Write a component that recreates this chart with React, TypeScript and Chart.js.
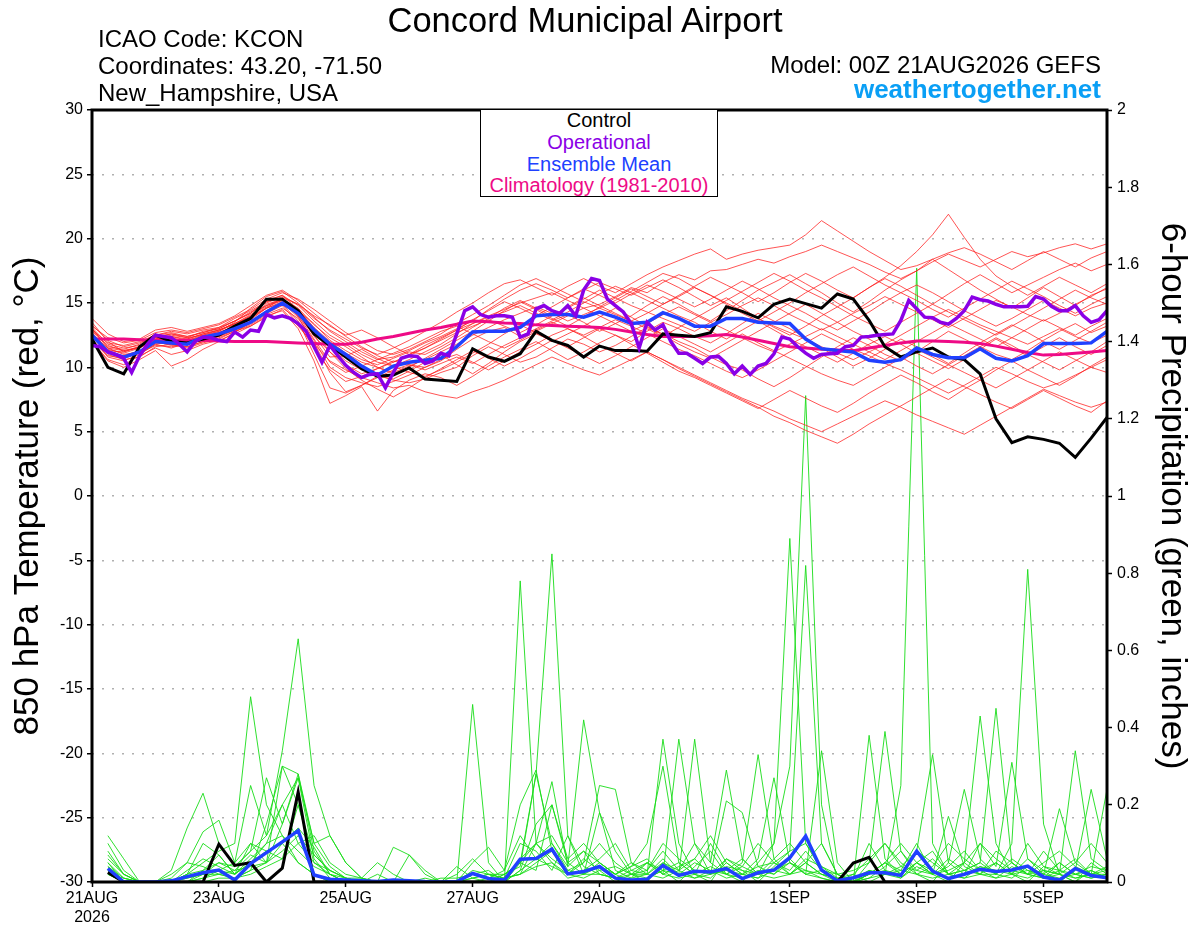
import React, { useEffect, useRef } from "react";
import { Chart, registerables } from "chart.js";

Chart.register(...registerables);

const FONT = "'Liberation Sans', Arial, Helvetica, sans-serif";

// ---- time axis (forecast lead hours) ----
const STEP_HOURS = 6;
const OPER_STEP_HOURS = 3;
const X_TICK_HOURS = [0, 48, 96, 144, 192, 264, 312, 360];
const X_TICK_LABELS: (string | string[])[] = [["21AUG", "2026"], "23AUG", "25AUG", "27AUG", "29AUG", "1SEP", "3SEP", "5SEP"];

// ---- 850 hPa temperature (°C), 6-hourly from 00Z 21AUG ----
const TEMP_CONTROL = [12.2, 10.0, 9.5, 11.6, 12.5, 12.0, 11.9, 12.2, 12.5, 13.2, 13.8, 15.3, 15.3, 14.4, 12.6, 11.7, 10.8, 9.9, 9.3, 9.4, 9.95, 9.1, 9.0, 8.9, 11.45, 10.8, 10.47, 11.06, 12.8, 12.1, 11.7, 10.8, 11.65, 11.3, 11.3, 11.25, 12.6, 12.5, 12.4, 12.7, 14.7, 14.35, 13.85, 14.9, 15.3, 14.95, 14.6, 15.7, 15.3, 13.65, 11.6, 10.8, 11.2, 11.5, 10.8, 10.6, 9.5, 6.0, 4.15, 4.6, 4.4, 4.1, 3.0, 4.5, 6.1];
const TEMP_MEAN = [12.5, 11.2, 10.8, 11.2, 12.0, 11.9, 11.8, 12.35, 12.6, 13.0, 13.5, 14.3, 15.0, 14.2, 12.9, 11.8, 11.0, 10.1, 9.4, 10.1, 10.4, 10.55, 10.7, 11.6, 12.75, 12.8, 12.8, 13.1, 14.0, 14.1, 14.1, 13.9, 14.3, 13.9, 13.4, 13.5, 14.25, 13.8, 13.2, 13.2, 13.8, 13.8, 13.5, 13.45, 13.4, 12.2, 11.45, 11.3, 11.2, 10.55, 10.4, 10.6, 11.5, 11.0, 10.75, 10.75, 11.45, 10.7, 10.5, 10.9, 11.85, 11.85, 11.85, 11.9, 12.8];
const TEMP_CLIMO = [12.2, 12.2, 12.2, 12.15, 12.1, 12.1, 12.1, 12.1, 12.05, 12.0, 12.0, 12.0, 11.95, 11.9, 11.85, 11.8, 11.8, 11.95, 12.2, 12.4, 12.65, 12.9, 13.1, 13.35, 13.6, 13.55, 13.45, 13.4, 13.3, 13.25, 13.2, 13.15, 13.1, 12.95, 12.75, 12.55, 12.4, 12.4, 12.4, 12.45, 12.55, 12.35, 12.1, 11.85, 11.6, 11.5, 11.4, 11.35, 11.3, 11.5, 11.7, 11.9, 12.05, 12.05, 12.0, 11.95, 11.85, 11.65, 11.4, 11.15, 10.95, 11.0, 11.1, 11.2, 11.3];
// operational run, 3-hourly
const TEMP_OPER = [11.7, 11.6, 11.2, 11.0, 10.7, 9.6, 10.9, 11.8, 12.5, 12.4, 12.3, 11.8, 11.2, 12.0, 12.35, 12.3, 12.1, 12.0, 12.75, 12.35, 12.9, 12.8, 14.1, 13.85, 14.0, 13.8, 13.4, 12.8, 11.6, 10.4, 11.7, 10.9, 10.15, 9.6, 9.2, 9.45, 9.5, 8.4, 9.6, 10.7, 10.9, 10.85, 10.3, 10.5, 11.1, 10.9, 12.6, 14.4, 14.7, 14.1, 13.9, 14.0, 14.0, 13.9, 12.35, 12.6, 14.55, 14.8, 14.4, 14.2, 14.8, 14.0, 16.0, 16.9, 16.75, 15.3, 14.8, 14.3, 13.4, 11.5, 13.5, 12.9, 13.3, 12.0, 11.1, 11.1, 10.7, 10.3, 10.8, 10.85, 10.3, 9.5, 10.1, 9.45, 10.1, 10.3, 11.05, 12.35, 12.2, 11.6, 11.1, 10.7, 11.0, 11.05, 11.1, 11.6, 11.7, 12.35, 12.4, 12.5, 12.55, 12.6, 13.65, 15.2, 14.55, 13.9, 13.85, 13.5, 13.35, 13.8, 14.4, 15.45, 15.25, 15.15, 14.9, 14.7, 14.7, 14.7, 14.75, 15.5, 15.3, 14.75, 14.4, 14.4, 14.8, 14.0, 13.5, 13.7, 14.4];

// ensemble members (temperature)
const TEMP_M01 = [13.5, 12.0, 11.2, 11.6, 12.4, 12.6, 12.3, 12.8, 13.0, 13.6, 14.2, 15.2, 15.6, 14.8, 13.6, 12.5, 11.8, 11.0, 10.4, 10.1, 10.6, 11.2, 11.8, 12.6, 13.4, 14.0, 14.5, 15.0, 15.4, 15.8, 15.2, 14.6, 14.9, 15.5, 16.2, 15.8, 16.6, 17.2, 16.8, 17.5, 17.6, 18.0, 18.4, 18.1, 18.6, 19.0, 19.5, 19.0, 18.5, 18.0, 17.4, 16.9, 17.5, 18.2, 18.8, 18.3, 17.8, 18.4, 19.0, 18.6, 18.9, 19.3, 19.6, 19.2, 19.6];
const TEMP_M02 = [12.2, 10.8, 10.5, 11.0, 11.8, 11.5, 11.9, 12.2, 12.4, 12.9, 13.5, 14.3, 14.9, 13.6, 11.0, 8.4, 8.0, 8.6, 9.2, 9.8, 10.2, 10.0, 10.5, 11.4, 12.2, 12.8, 13.1, 12.4, 13.0, 13.6, 14.1, 13.5, 12.8, 13.4, 14.0, 14.8, 15.5, 14.9, 14.2, 13.6, 14.4, 15.2, 16.0, 16.6, 17.2, 16.5, 15.8, 15.0, 14.3, 15.1, 16.0, 16.8, 17.5, 18.4, 17.6, 16.8, 16.0, 15.3, 14.6, 15.4, 16.2, 15.5, 14.8, 15.6, 16.1];
const TEMP_M03 = [12.6, 11.5, 11.0, 11.2, 11.9, 12.2, 12.1, 12.5, 12.9, 13.4, 14.0, 14.8, 15.3, 14.5, 13.0, 11.6, 10.5, 9.8, 9.4, 9.0, 8.8, 9.1, 9.6, 10.0, 10.9, 11.6, 11.0, 10.4, 10.8, 11.5, 12.2, 11.8, 11.2, 11.7, 12.4, 13.1, 12.6, 12.0, 11.5, 10.8, 10.2, 9.8, 9.1, 8.5, 9.2, 10.0, 10.8, 11.6, 12.3, 11.7, 11.0, 10.5, 11.2, 12.0, 12.8, 12.2, 11.6, 11.0, 10.6, 11.3, 12.1, 12.8, 13.4, 12.7, 13.2];
const TEMP_M04 = [13.0, 11.6, 11.4, 11.8, 12.6, 12.3, 12.0, 12.4, 12.8, 13.5, 14.6, 15.5, 15.9, 15.0, 13.9, 12.8, 12.0, 11.2, 10.6, 10.8, 11.3, 11.9, 12.4, 13.0, 13.6, 14.5, 15.3, 16.0, 16.5, 16.0, 15.4, 16.0, 16.6, 16.1, 15.6, 16.2, 16.8, 16.2, 15.5, 14.8, 15.4, 14.6, 13.8, 13.1, 12.5, 13.2, 14.0, 14.7, 15.4, 16.2, 16.9, 16.3, 15.6, 14.9, 15.7, 16.5, 17.2, 16.5, 15.8, 16.4, 17.0, 17.6, 18.1, 17.5, 18.0];
const TEMP_M05 = [12.0, 10.6, 10.2, 10.9, 11.5, 11.0, 11.3, 11.8, 12.1, 12.6, 13.2, 14.0, 14.4, 13.0, 10.5, 7.2, 7.8, 8.5, 6.6, 8.2, 9.0, 9.5, 9.2, 8.6, 9.3, 10.1, 10.8, 11.4, 12.0, 11.3, 10.6, 11.2, 11.9, 12.5, 11.8, 11.1, 10.4, 9.7, 9.2, 8.6, 8.0, 7.4, 6.8, 7.5, 8.2, 7.6, 7.0, 6.5, 7.2, 8.0, 8.7, 9.4, 8.8, 8.1, 7.5, 8.3, 9.0, 9.8, 10.5, 9.8, 9.2, 8.6, 9.3, 10.1, 10.8];
const TEMP_M06 = [12.9, 11.9, 11.7, 12.0, 12.5, 12.8, 12.6, 12.9, 13.1, 13.8, 14.4, 15.1, 15.4, 14.2, 12.4, 11.2, 10.2, 9.5, 9.9, 10.4, 11.0, 11.7, 12.3, 12.9, 13.4, 13.9, 14.3, 14.8, 14.2, 13.7, 14.3, 15.0, 15.7, 16.3, 15.8, 15.2, 14.6, 14.0, 13.5, 12.8, 12.2, 12.9, 13.6, 12.9, 12.2, 11.6, 11.0, 10.4, 11.1, 11.8, 12.4, 11.8, 11.1, 10.5, 9.9, 10.6, 11.4, 12.2, 11.5, 10.9, 11.6, 12.3, 11.6, 11.0, 11.7];
const TEMP_M07 = [12.4, 11.0, 10.6, 10.8, 11.6, 11.8, 11.5, 11.9, 12.2, 12.8, 13.3, 14.1, 14.6, 13.8, 12.1, 10.0, 9.2, 8.8, 8.5, 8.9, 9.4, 10.0, 10.6, 11.0, 10.4, 9.8, 10.5, 11.2, 11.8, 12.5, 13.0, 12.4, 11.7, 11.1, 10.5, 11.2, 10.6, 9.9, 9.3, 8.7, 8.1, 7.5, 6.9, 6.2, 5.7, 5.1, 4.6, 4.1, 4.8, 5.6, 6.3, 7.0, 7.7, 8.4, 9.1, 8.5, 7.9, 7.3, 6.8, 7.5, 8.2, 7.6, 7.0, 6.5, 7.4];
const TEMP_M08 = [13.2, 12.3, 11.9, 12.1, 12.7, 12.9, 12.7, 13.0, 13.3, 13.9, 14.5, 15.3, 15.8, 15.3, 14.5, 13.6, 12.7, 12.0, 11.3, 11.0, 11.4, 12.0, 12.6, 13.4, 14.1, 14.8, 15.6, 16.4, 16.9, 16.3, 15.7, 15.1, 14.6, 15.2, 15.9, 16.6, 17.3, 16.9, 16.2, 15.6, 14.9, 14.2, 13.6, 14.3, 15.0, 15.8, 16.5, 17.2, 17.8, 17.1, 16.4, 15.8, 15.2, 14.5, 13.9, 14.6, 15.3, 16.0, 16.7, 16.1, 15.5, 14.8, 14.2, 14.9, 15.5];
const TEMP_M09 = [12.1, 10.9, 10.7, 11.1, 11.7, 11.6, 11.8, 12.1, 12.5, 13.0, 13.7, 14.6, 15.1, 14.0, 12.5, 10.8, 10.9, 11.4, 10.7, 10.1, 9.6, 9.3, 9.8, 10.4, 11.1, 11.8, 12.6, 13.3, 12.7, 12.0, 12.6, 13.2, 13.9, 14.6, 13.9, 13.2, 12.5, 11.8, 11.2, 10.7, 11.4, 12.1, 12.8, 13.5, 14.2, 14.9, 14.2, 13.5, 12.8, 12.2, 11.5, 10.8, 10.1, 9.5, 10.2, 10.9, 11.6, 12.3, 11.7, 11.0, 10.4, 9.8, 10.5, 11.2, 12.0];
const TEMP_M10 = [12.7, 11.4, 11.1, 11.5, 12.2, 12.4, 12.2, 12.6, 12.9, 13.3, 14.0, 14.9, 15.3, 14.6, 13.3, 12.3, 11.6, 10.8, 10.0, 9.5, 10.0, 10.7, 11.4, 12.1, 12.8, 13.6, 14.4, 15.1, 14.5, 13.8, 13.2, 13.9, 14.7, 15.4, 16.1, 15.5, 14.9, 15.6, 16.3, 17.0, 16.4, 15.8, 15.1, 15.8, 16.6, 17.3, 16.7, 16.0, 15.4, 16.2, 17.0, 17.9, 19.0, 20.3, 21.9, 20.1, 18.4, 17.1, 16.3, 15.6, 16.3, 17.0, 16.4, 15.8, 16.5];
const TEMP_M11 = [13.3, 12.1, 11.6, 11.9, 12.5, 12.7, 12.4, 12.7, 13.0, 13.6, 14.3, 15.0, 15.5, 14.9, 13.8, 12.9, 12.2, 11.5, 11.0, 11.5, 12.1, 12.8, 13.5, 14.3, 15.0, 15.8, 16.5, 16.8, 16.2, 15.6, 16.3, 16.9, 16.3, 15.8, 16.5, 17.2, 17.8, 18.3, 18.8, 19.2, 18.4, 18.8, 19.1, 19.3, 19.5, 20.3, 21.4, 20.6, 19.8, 19.0, 18.3, 17.6, 17.9, 18.4, 18.9, 19.3, 18.8, 18.2, 17.6, 18.3, 19.0, 18.4, 17.8, 18.5, 19.0];
const TEMP_M12 = [12.3, 11.2, 10.8, 11.1, 11.8, 12.0, 11.9, 12.3, 12.7, 13.2, 13.9, 14.7, 15.2, 14.3, 12.8, 11.2, 9.9, 9.0, 8.3, 7.7, 8.4, 9.2, 9.9, 10.6, 11.3, 10.7, 10.1, 10.7, 11.4, 12.1, 11.5, 10.9, 10.3, 10.9, 11.6, 12.3, 13.0, 12.4, 11.8, 11.2, 11.9, 12.6, 11.9, 11.3, 10.7, 10.1, 9.5, 9.0, 8.6, 9.3, 10.0, 10.7, 11.4, 10.8, 10.2, 9.6, 9.0, 8.4, 9.1, 9.8, 10.5, 11.2, 10.6, 10.0, 9.6];
const TEMP_M13 = [13.8, 12.6, 12.0, 12.2, 12.9, 13.1, 12.8, 13.1, 13.4, 14.0, 14.8, 15.6, 16.0, 15.2, 14.2, 13.2, 12.5, 12.9, 12.3, 11.6, 11.0, 11.5, 12.1, 12.7, 13.2, 13.7, 13.2, 12.7, 13.3, 14.0, 14.7, 15.4, 14.8, 14.2, 13.6, 13.0, 12.4, 13.1, 13.8, 14.5, 15.2, 15.9, 16.6, 17.3, 16.7, 16.0, 15.4, 14.7, 14.0, 13.4, 12.8, 13.5, 14.2, 14.9, 14.3, 13.7, 13.1, 12.5, 13.2, 13.9, 14.6, 15.3, 16.0, 15.4, 14.9];
const TEMP_M14 = [12.5, 11.1, 10.9, 11.3, 12.0, 11.7, 11.6, 12.0, 12.4, 12.9, 13.4, 14.2, 14.8, 13.4, 11.5, 9.8, 8.9, 9.3, 9.9, 10.5, 10.2, 9.8, 10.3, 10.8, 10.3, 11.0, 11.7, 12.3, 12.9, 13.5, 13.0, 12.5, 13.1, 13.7, 13.2, 12.6, 12.0, 11.4, 10.9, 10.3, 9.7, 9.2, 9.8, 10.5, 11.2, 11.9, 12.6, 12.0, 11.4, 10.9, 10.3, 9.8, 9.2, 8.6, 8.0, 8.6, 9.3, 10.0, 9.5, 8.9, 8.4, 8.8, 9.4, 10.0, 10.6];
const TEMP_M15 = [12.0, 10.5, 10.0, 10.6, 11.3, 10.1, 10.6, 11.4, 12.0, 12.7, 13.5, 14.4, 15.0, 14.4, 13.4, 12.1, 11.3, 10.6, 10.2, 10.7, 11.2, 11.0, 11.6, 12.3, 13.1, 13.8, 14.6, 15.2, 14.6, 14.0, 14.6, 15.3, 16.0, 15.4, 14.8, 14.3, 13.8, 13.3, 12.8, 13.5, 14.1, 14.8, 15.4, 14.8, 14.1, 13.5, 12.9, 13.5, 14.2, 14.8, 15.5, 14.9, 14.3, 13.7, 13.1, 13.8, 14.5, 15.2, 14.7, 14.1, 13.6, 14.2, 14.9, 15.5, 16.2];
const TEMP_M16 = [12.8, 11.7, 11.3, 11.6, 12.2, 12.5, 12.3, 12.5, 12.8, 13.4, 14.1, 14.8, 15.2, 14.0, 12.2, 10.4, 9.6, 10.1, 10.6, 11.1, 11.6, 12.2, 12.8, 13.2, 12.6, 12.0, 11.5, 12.1, 12.8, 13.4, 14.0, 14.6, 14.0, 13.4, 12.8, 13.4, 14.1, 14.7, 14.1, 13.5, 12.9, 12.3, 11.7, 11.2, 11.8, 12.4, 13.0, 12.4, 11.8, 11.2, 10.6, 11.3, 12.0, 12.7, 13.4, 12.8, 12.2, 11.6, 12.3, 13.0, 13.7, 13.1, 12.5, 13.2, 13.8];
const TEMP_M17 = [12.4, 11.2, 10.9, 11.2, 11.9, 11.8, 11.6, 12.0, 12.3, 12.8, 13.2, 13.9, 14.5, 13.2, 11.8, 10.5, 9.8, 9.2, 8.8, 8.4, 8.6, 8.1, 7.8, 7.6, 8.1, 8.5, 9.0, 9.6, 10.2, 10.8, 10.3, 9.8, 9.4, 10.0, 10.6, 11.2, 10.6, 10.0, 9.4, 8.8, 8.2, 7.6, 7.1, 6.6, 6.0, 5.5, 5.0, 5.6, 6.2, 6.8, 7.4, 6.9, 6.3, 5.8, 5.3, 4.8, 5.5, 6.2, 6.9, 7.6, 8.3, 7.8, 7.3, 6.9, 7.3];
const TEMP_M18 = [13.1, 11.8, 11.5, 11.7, 12.3, 12.6, 12.4, 12.7, 13.1, 13.6, 14.2, 15.1, 15.6, 14.5, 13.1, 12.0, 11.1, 10.4, 10.0, 9.6, 10.1, 10.6, 11.2, 11.8, 12.5, 13.1, 13.7, 14.2, 14.7, 14.2, 13.6, 14.1, 14.6, 14.1, 13.6, 14.2, 14.9, 15.5, 16.2, 15.6, 15.0, 14.4, 13.8, 13.2, 12.7, 12.2, 11.6, 11.1, 10.6, 11.2, 11.8, 12.5, 13.2, 13.9, 14.5, 13.9, 13.3, 12.8, 12.3, 11.8, 12.4, 13.0, 12.4, 11.9, 12.5];
const TEMP_M19 = [12.6, 11.3, 11.2, 11.6, 12.3, 12.1, 12.2, 12.6, 12.9, 13.4, 13.9, 14.6, 15.0, 13.9, 11.9, 9.6, 8.1, 8.6, 9.3, 9.1, 9.7, 10.4, 11.0, 10.2, 9.5, 10.3, 11.2, 12.0, 12.6, 12.1, 11.6, 12.3, 13.0, 12.5, 12.0, 12.8, 13.5, 13.0, 12.4, 11.9, 12.6, 13.4, 14.2, 13.6, 13.0, 12.3, 11.5, 10.8, 10.1, 10.7, 11.4, 12.2, 11.6, 11.0, 10.3, 11.1, 11.9, 12.6, 13.3, 12.7, 12.0, 11.4, 12.1, 12.8, 13.5];
const TEMP_M20 = [13.0, 11.5, 11.3, 11.5, 12.1, 12.4, 12.1, 12.4, 12.7, 13.2, 13.8, 14.6, 15.4, 14.9, 14.0, 13.3, 12.4, 11.6, 10.9, 10.4, 10.9, 11.5, 12.2, 12.9, 13.7, 14.4, 15.1, 14.6, 14.0, 14.7, 15.4, 16.1, 15.6, 15.0, 15.7, 16.4, 15.9, 15.3, 14.7, 15.3, 16.0, 16.7, 16.1, 15.4, 14.8, 14.2, 13.5, 12.9, 13.6, 14.3, 15.1, 15.8, 16.4, 15.8, 15.1, 14.4, 13.8, 13.2, 13.8, 14.5, 15.2, 14.6, 14.0, 14.6, 15.0];

// ---- 6-hour precipitation (inches), first value valid 06Z 21AUG ----
const PRCP_CONTROL = [0.025, 0, 0, 0, 0, 0, 0, 0.098, 0.043, 0.05, 0, 0.036, 0.233, 0, 0, 0, 0, 0, 0, 0, 0, 0, 0, 0, 0, 0, 0, 0, 0, 0, 0, 0, 0, 0, 0, 0, 0, 0, 0, 0, 0, 0, 0, 0, 0, 0, 0, 0.049, 0.064, 0, 0, 0, 0, 0, 0, 0, 0, 0, 0, 0, 0, 0, 0, 0];
const PRCP_MEAN = [0.035, 0, 0, 0, 0.003, 0.014, 0.024, 0.031, 0.005, 0.048, 0.076, 0.104, 0.133, 0.018, 0.007, 0.005, 0.003, 0.001, 0.005, 0.003, 0.001, 0, 0.001, 0.022, 0.009, 0.005, 0.059, 0.061, 0.085, 0.021, 0.027, 0.04, 0.01, 0.005, 0.007, 0.043, 0.017, 0.028, 0.026, 0.035, 0.009, 0.024, 0.031, 0.063, 0.119, 0.031, 0.003, 0.011, 0.024, 0.024, 0.017, 0.08, 0.028, 0.009, 0.02, 0.033, 0.027, 0.031, 0.041, 0.013, 0.005, 0.035, 0.017, 0.011];

const PRCP_M01 = [0.12, 0.06, 0, 0, 0, 0.02, 0.05, 0.08, 0.1, 0.48, 0.2, 0.12, 0.05, 0.02, 0, 0, 0, 0, 0, 0, 0, 0, 0, 0.03, 0.02, 0, 0.78, 0.1, 0.05, 0.02, 0.06, 0.03, 0, 0.02, 0.05, 0.03, 0, 0.04, 0.08, 0.02, 0, 0.05, 0.1, 0.3, 1.26, 0.2, 0, 0, 0.02, 0.05, 0.03, 0.1, 0.02, 0, 0.05, 0.43, 0.1, 0.02, 0, 0.04, 0.02, 0, 0.03, 0.01];
const PRCP_M02 = [0.07, 0.02, 0, 0, 0.03, 0.14, 0.23, 0.1, 0.04, 0.08, 0.27, 0.15, 0.28, 0.1, 0.04, 0.01, 0, 0, 0, 0, 0, 0, 0, 0.05, 0.09, 0.03, 0.2, 0.29, 0.08, 0.02, 0.05, 0.25, 0.24, 0.05, 0.02, 0.37, 0.1, 0.02, 0, 0.06, 0.03, 0, 0.04, 0.08, 0.82, 0.1, 0.02, 0, 0.05, 0.39, 0.08, 0.02, 0, 0.05, 0.24, 0.06, 0.02, 0.1, 0.81, 0.15, 0.02, 0, 0.05, 0.02];
const PRCP_M03 = [0.05, 0, 0, 0, 0.01, 0.05, 0.13, 0.16, 0.05, 0.25, 0.12, 0.34, 0.63, 0.25, 0.12, 0.05, 0.01, 0, 0, 0, 0, 0, 0.04, 0.01, 0, 0.02, 0.05, 0.28, 0.85, 0.12, 0.04, 0.02, 0.01, 0.03, 0.02, 0.06, 0.02, 0.37, 0.05, 0.29, 0.06, 0.02, 0.1, 0.89, 0.1, 0.03, 0, 0.02, 0, 0.02, 0.25, 1.59, 0.1, 0.02, 0.03, 0.05, 0.45, 0.05, 0.02, 0.03, 0, 0.03, 0.24, 0.06];
const PRCP_M04 = [0.04, 0.01, 0, 0, 0, 0.02, 0.1, 0.07, 0.02, 0.1, 0.05, 0.3, 0.28, 0.08, 0.02, 0, 0, 0, 0.09, 0.07, 0.02, 0, 0, 0, 0, 0, 0.06, 0.1, 0.26, 0.04, 0.42, 0.18, 0.08, 0.02, 0, 0.05, 0.03, 0.06, 0.02, 0.21, 0.18, 0.04, 0.02, 0.06, 0.02, 0.34, 0.05, 0, 0.02, 0.05, 0.02, 0.08, 0.33, 0.05, 0.02, 0.1, 0.04, 0.31, 0.06, 0.02, 0.19, 0.05, 0.02, 0.24];
const PRCP_M05 = [0.1, 0.03, 0, 0, 0, 0, 0.03, 0.07, 0.02, 0.05, 0.1, 0.2, 0.27, 0.1, 0.12, 0.05, 0.01, 0, 0, 0, 0, 0, 0, 0.46, 0.05, 0, 0.05, 0.03, 0.2, 0.06, 0.1, 0.05, 0.02, 0.04, 0.1, 0.3, 0.05, 0.02, 0.04, 0.02, 0.05, 0.33, 0.06, 0.02, 0.05, 0.1, 0.02, 0, 0.38, 0.06, 0.02, 0.05, 0.02, 0.17, 0.04, 0.02, 0.05, 0.02, 0.06, 0.03, 0.02, 0.34, 0.06, 0.03];
const PRCP_M06 = [0.03, 0, 0, 0, 0.02, 0.05, 0.04, 0.02, 0.01, 0.03, 0.15, 0.3, 0.2, 0.07, 0.03, 0.01, 0.01, 0.05, 0.02, 0, 0, 0, 0.02, 0.06, 0.02, 0.01, 0.1, 0.08, 0.03, 0.12, 0.02, 0.18, 0.03, 0.01, 0.05, 0.02, 0.01, 0.02, 0.1, 0.03, 0.02, 0.06, 0.27, 0.05, 0.02, 0.03, 0, 0.01, 0.1, 0.03, 0.01, 0.05, 0.08, 0.02, 0.01, 0.04, 0.02, 0.05, 0.02, 0.01, 0.03, 0.02, 0.01, 0.02];
const PRCP_M07 = [0.02, 0, 0, 0, 0, 0.01, 0.02, 0.03, 0.05, 0.1, 0.08, 0.06, 0.2, 0.05, 0.02, 0, 0, 0, 0, 0.07, 0.03, 0, 0, 0, 0, 0.02, 0.04, 0.28, 0.1, 0.04, 0.08, 0.05, 0.02, 0, 0.01, 0.03, 0.05, 0.02, 0.01, 0.05, 0.02, 0.01, 0.05, 0.03, 0.08, 0.03, 0.02, 0, 0.03, 0.02, 0.01, 0.04, 0.02, 0.06, 0.03, 0.02, 0.02, 0.01, 0.04, 0.02, 0.05, 0.02, 0.03, 0.01];
const PRCP_M08 = [0.05, 0.01, 0, 0, 0, 0.03, 0.06, 0.04, 0.02, 0.06, 0.1, 0.12, 0.08, 0.04, 0.02, 0.01, 0, 0.02, 0, 0, 0, 0.01, 0.01, 0.02, 0.01, 0.03, 0.12, 0.06, 0.1, 0.03, 0.05, 0.1, 0.05, 0.02, 0.03, 0.08, 0.03, 0.1, 0.05, 0.02, 0.04, 0.1, 0.05, 0.08, 0.1, 0.04, 0.02, 0.03, 0.05, 0.1, 0.04, 0.03, 0.06, 0.02, 0.05, 0.1, 0.06, 0.03, 0.02, 0.05, 0.08, 0.04, 0.02, 0.03];
const PRCP_M09 = [0.03, 0, 0, 0, 0, 0, 0.01, 0.02, 0.03, 0.04, 0.05, 0.15, 0.27, 0.06, 0.01, 0, 0, 0, 0, 0, 0, 0, 0, 0.01, 0.02, 0.01, 0.02, 0.05, 0.08, 0.02, 0.03, 0.06, 0.1, 0.03, 0.05, 0.02, 0.37, 0.1, 0.02, 0.03, 0.06, 0.02, 0.03, 0.02, 0.05, 0.02, 0.01, 0, 0.02, 0.05, 0.1, 0.05, 0.02, 0.03, 0.05, 0.02, 0.08, 0.05, 0.02, 0.01, 0.02, 0.05, 0.1, 0.05];
const PRCP_M10 = [0.06, 0.02, 0, 0, 0, 0.02, 0.03, 0.05, 0.04, 0.08, 0.12, 0.2, 0.1, 0.05, 0.03, 0.01, 0, 0, 0, 0, 0, 0, 0, 0.02, 0.03, 0, 0.03, 0.15, 0.2, 0.05, 0.02, 0.04, 0.02, 0.05, 0.03, 0.1, 0.06, 0.03, 0.02, 0.04, 0.03, 0.02, 0.06, 0.1, 0.05, 0.02, 0.01, 0.02, 0.06, 0.1, 0.05, 0.02, 0.04, 0.1, 0.06, 0.03, 0.05, 0.02, 0.1, 0.04, 0.03, 0.06, 0.02, 0.02];
const PRCP_M11 = [0.02, 0.01, 0, 0, 0, 0, 0.01, 0.03, 0.02, 0.05, 0.08, 0.1, 0.14, 0.09, 0.02, 0, 0, 0, 0, 0, 0.01, 0, 0, 0.01, 0.02, 0.02, 0.05, 0.1, 0.12, 0.05, 0.08, 0.02, 0.01, 0.02, 0.02, 0.05, 0.02, 0.01, 0.03, 0.02, 0.01, 0.03, 0.02, 0.05, 0.03, 0.02, 0, 0.01, 0.03, 0.02, 0.04, 0.08, 0.05, 0.02, 0.03, 0.05, 0.02, 0.06, 0.03, 0.01, 0.05, 0.02, 0.04, 0.03];
const PRCP_M12 = [0.04, 0, 0, 0, 0, 0, 0, 0.01, 0.01, 0.03, 0.05, 0.08, 0.12, 0.07, 0.03, 0.01, 0, 0, 0, 0, 0, 0, 0, 0, 0, 0.01, 0.02, 0.1, 0.06, 0.03, 0.02, 0.05, 0.02, 0.04, 0.06, 0.02, 0.04, 0.06, 0.12, 0.05, 0.02, 0.04, 0.05, 0.02, 0.06, 0.04, 0.01, 0, 0.01, 0.04, 0.08, 0.03, 0.02, 0.04, 0.08, 0.03, 0.01, 0.04, 0.02, 0.08, 0.03, 0.01, 0.02, 0.04];
const PRCP_M13 = [0.08, 0.02, 0, 0, 0, 0, 0.02, 0.05, 0.03, 0.07, 0.05, 0.1, 0.05, 0.02, 0, 0, 0, 0, 0, 0, 0, 0, 0, 0, 0.01, 0, 0.03, 0.06, 0.04, 0.02, 0.01, 0.03, 0.04, 0.02, 0.01, 0.03, 0.02, 0.05, 0.03, 0.01, 0.02, 0.01, 0.03, 0.05, 0.02, 0.01, 0, 0, 0.02, 0.03, 0.02, 0.05, 0.03, 0.01, 0.02, 0.04, 0.03, 0.02, 0.01, 0.03, 0.02, 0.01, 0.02, 0.01];
const PRCP_M14 = [0.02, 0, 0, 0, 0, 0.01, 0.02, 0.02, 0.01, 0.02, 0.04, 0.06, 0.1, 0.12, 0.05, 0.02, 0.01, 0, 0, 0, 0, 0, 0, 0, 0, 0.01, 0.02, 0.04, 0.05, 0.01, 0.02, 0.02, 0.01, 0.01, 0.02, 0.01, 0.03, 0.01, 0.02, 0.06, 0.04, 0.02, 0.01, 0.02, 0.03, 0.01, 0, 0, 0.01, 0.02, 0.03, 0.02, 0.01, 0.02, 0.01, 0.02, 0.01, 0.02, 0.03, 0.02, 0.01, 0.02, 0.01, 0.02];

const TEMP_MEMBERS = [TEMP_M01, TEMP_M02, TEMP_M03, TEMP_M04, TEMP_M05, TEMP_M06, TEMP_M07, TEMP_M08, TEMP_M09, TEMP_M10, TEMP_M11, TEMP_M12, TEMP_M13, TEMP_M14, TEMP_M15, TEMP_M16, TEMP_M17, TEMP_M18, TEMP_M19, TEMP_M20];
const PRCP_MEMBERS = [PRCP_M01, PRCP_M02, PRCP_M03, PRCP_M04, PRCP_M05, PRCP_M06, PRCP_M07, PRCP_M08, PRCP_M09, PRCP_M10, PRCP_M11, PRCP_M12, PRCP_M13, PRCP_M14];

// ---- colours ----
const C_CONTROL = "#000000";
const C_OPER = "#8a00e6";
const C_MEAN = "#2040ff";
const C_CLIMO = "#ee0a86";
const C_RED = "rgba(255, 30, 30, 0.85)";
const C_GREEN = "rgba(25, 220, 25, 1)";

// temperature series start at hour 0, precipitation at hour 6
const tempPts = (vals: number[], step = STEP_HOURS) => vals.map((v, i) => ({ x: i * step, y: v }));
const prcpPts = (vals: number[]) => vals.map((v, i) => ({ x: (i + 1) * STEP_HOURS, y: v }));

const framePlugin = {
  id: "plotFrame",
  afterDraw(chart: any) {
    const { ctx, chartArea } = chart;
    const { left, top, right, bottom } = chartArea;
    ctx.save();
    ctx.strokeStyle = "#000";
    ctx.lineWidth = 3;
    ctx.strokeRect(left, top, right - left, bottom - top);
    ctx.restore();
  },
};

export default function App() {
  const canvasRef = useRef<HTMLCanvasElement>(null);

  useEffect(() => {
    document.body.style.margin = "0";
    const canvas = canvasRef.current;
    if (!canvas) return;

    const line = (extra: any) => ({
      pointRadius: 0,
      pointHoverRadius: 0,
      tension: 0,
      fill: false,
      ...extra,
    });

    const datasets: any[] = [];
    datasets.push(line({ label: "Operational", data: tempPts(TEMP_OPER, OPER_STEP_HOURS), borderColor: C_OPER, borderWidth: 3.5, yAxisID: "yT", order: 1 }));
    datasets.push(line({ label: "Ensemble Mean", data: tempPts(TEMP_MEAN), borderColor: C_MEAN, borderWidth: 3.5, yAxisID: "yT", order: 2 }));
    datasets.push(line({ label: "Control", data: tempPts(TEMP_CONTROL), borderColor: C_CONTROL, borderWidth: 3, yAxisID: "yT", order: 3 }));
    datasets.push(line({ label: "Climatology", data: tempPts(TEMP_CLIMO), borderColor: C_CLIMO, borderWidth: 3, yAxisID: "yT", order: 4 }));
    datasets.push(line({ label: "Precip Mean", data: prcpPts(PRCP_MEAN), borderColor: C_MEAN, borderWidth: 3.5, yAxisID: "yP", order: 5 }));
    datasets.push(line({ label: "Precip Control", data: prcpPts(PRCP_CONTROL), borderColor: C_CONTROL, borderWidth: 3, yAxisID: "yP", order: 6 }));
    TEMP_MEMBERS.forEach((m, k) =>
      datasets.push(line({ label: `T member ${k + 1}`, data: tempPts(m), borderColor: C_RED, borderWidth: 0.9, yAxisID: "yT", order: 20 }))
    );
    PRCP_MEMBERS.forEach((m, k) =>
      datasets.push(line({ label: `P member ${k + 1}`, data: prcpPts(m), borderColor: C_GREEN, borderWidth: 0.9, yAxisID: "yP", order: 30 }))
    );

    const tickFont = { family: FONT, size: 16 };

    const chart = new Chart(canvas, {
      type: "line",
      data: { datasets },
      plugins: [framePlugin],
      options: {
        responsive: false,
        maintainAspectRatio: false,
        animation: false,
        devicePixelRatio: 1,
        events: [],
        layout: { padding: { top: 110, left: 0, right: 0, bottom: 0 } },
        plugins: {
          legend: { display: false },
          tooltip: { enabled: false },
          title: { display: false },
        },
        scales: {
          x: {
            type: "linear",
            position: "bottom",
            min: 0,
            max: 384,
            afterBuildTicks: (s: any) => {
              s.ticks = X_TICK_HOURS.map((v) => ({ value: v }));
            },
            afterFit: (s: any) => {
              s.height = 45;
            },
            grid: { display: true, drawOnChartArea: false, drawTicks: true, tickLength: 5, tickColor: "#000", tickWidth: 1.5 },
            border: { display: false },
            ticks: {
              autoSkip: false,
              maxRotation: 0,
              minRotation: 0,
              padding: 2,
              color: "#000",
              font: tickFont,
              callback: (value: any) => {
                const k = X_TICK_HOURS.indexOf(Number(value));
                return k >= 0 ? X_TICK_LABELS[k] : "";
              },
            },
          },
          yT: {
            type: "linear",
            position: "left",
            min: -30,
            max: 30,
            afterFit: (s: any) => {
              s.width = 92;
            },
            grid: {
              display: true,
              drawOnChartArea: true,
              drawTicks: true,
              tickLength: 5,
              tickColor: "#000",
              tickWidth: 1.5,
              lineWidth: 1.5,
              color: (c: any) => (c.tick && Math.abs(c.tick.value) === 30 ? "rgba(0,0,0,0)" : "#b0b0b0"),
            },
            border: { display: false, dash: [2, 8] },
            ticks: { stepSize: 5, padding: 4, color: "#000", font: tickFont },
            title: {
              display: true,
              text: "850 hPa Temperature (red, °C)",
              color: "#000",
              font: { family: FONT, size: 35 },
              padding: { top: 7, bottom: 0 },
            },
          },
          yP: {
            type: "linear",
            position: "right",
            min: 0,
            max: 2,
            afterFit: (s: any) => {
              s.width = 93;
            },
            grid: { display: true, drawOnChartArea: false, drawTicks: true, tickLength: 5, tickColor: "#000", tickWidth: 1.5 },
            border: { display: false },
            ticks: {
              stepSize: 0.2,
              padding: 5,
              color: "#000",
              font: tickFont,
              callback: (value: any) => String(Number(Number(value).toFixed(1))),
            },
            title: {
              display: true,
              text: "6-hour Precipitation (green, inches)",
              color: "#000",
              font: { family: FONT, size: 35 },
              padding: { top: 7, bottom: 0 },
            },
          },
        },
      } as any,
    });

    return () => chart.destroy();
  }, []);

  const abs = (extra: React.CSSProperties): React.CSSProperties => ({
    position: "absolute",
    fontFamily: FONT,
    whiteSpace: "nowrap",
    margin: 0,
    ...extra,
  });

  return (
    <div style={{ position: "absolute", left: 0, top: 0, width: 1200, height: 927, background: "#fff", overflow: "hidden" }}>
      <canvas ref={canvasRef} width={1200} height={927} style={{ position: "absolute", left: 0, top: 0, width: 1200, height: 927 }} />
      <div style={abs({ left: 0, width: 1170, top: 1, textAlign: "center", fontSize: 34.5, lineHeight: "38px", color: "#000" })}>
        Concord Municipal Airport
      </div>
      <div style={abs({ left: 98, top: 25, fontSize: 24, lineHeight: "27px", color: "#000" })}>
        <div>ICAO Code: KCON</div>
        <div>Coordinates: 43.20, -71.50</div>
        <div>New_Hampshire, USA</div>
      </div>
      <div style={abs({ right: 99, top: 51, fontSize: 24, lineHeight: "27px", color: "#000", textAlign: "right" })}>
        Model: 00Z 21AUG2026 GEFS
      </div>
      <div style={abs({ right: 99, top: 76, fontSize: 26, lineHeight: "27px", fontWeight: "bold", color: "#0a9ff5", textAlign: "right" })}>
        weathertogether.net
      </div>
      <div
        style={abs({
          left: 480,
          top: 109,
          width: 236,
          height: 86,
          border: "1.5px solid #000",
          background: "#fff",
          textAlign: "center",
          fontSize: 20,
          lineHeight: "21.8px",
        })}
      >
        <div style={{ color: C_CONTROL }}>Control</div>
        <div style={{ color: C_OPER }}>Operational</div>
        <div style={{ color: C_MEAN }}>Ensemble Mean</div>
        <div style={{ color: C_CLIMO }}>Climatology (1981-2010)</div>
      </div>
    </div>
  );
}
